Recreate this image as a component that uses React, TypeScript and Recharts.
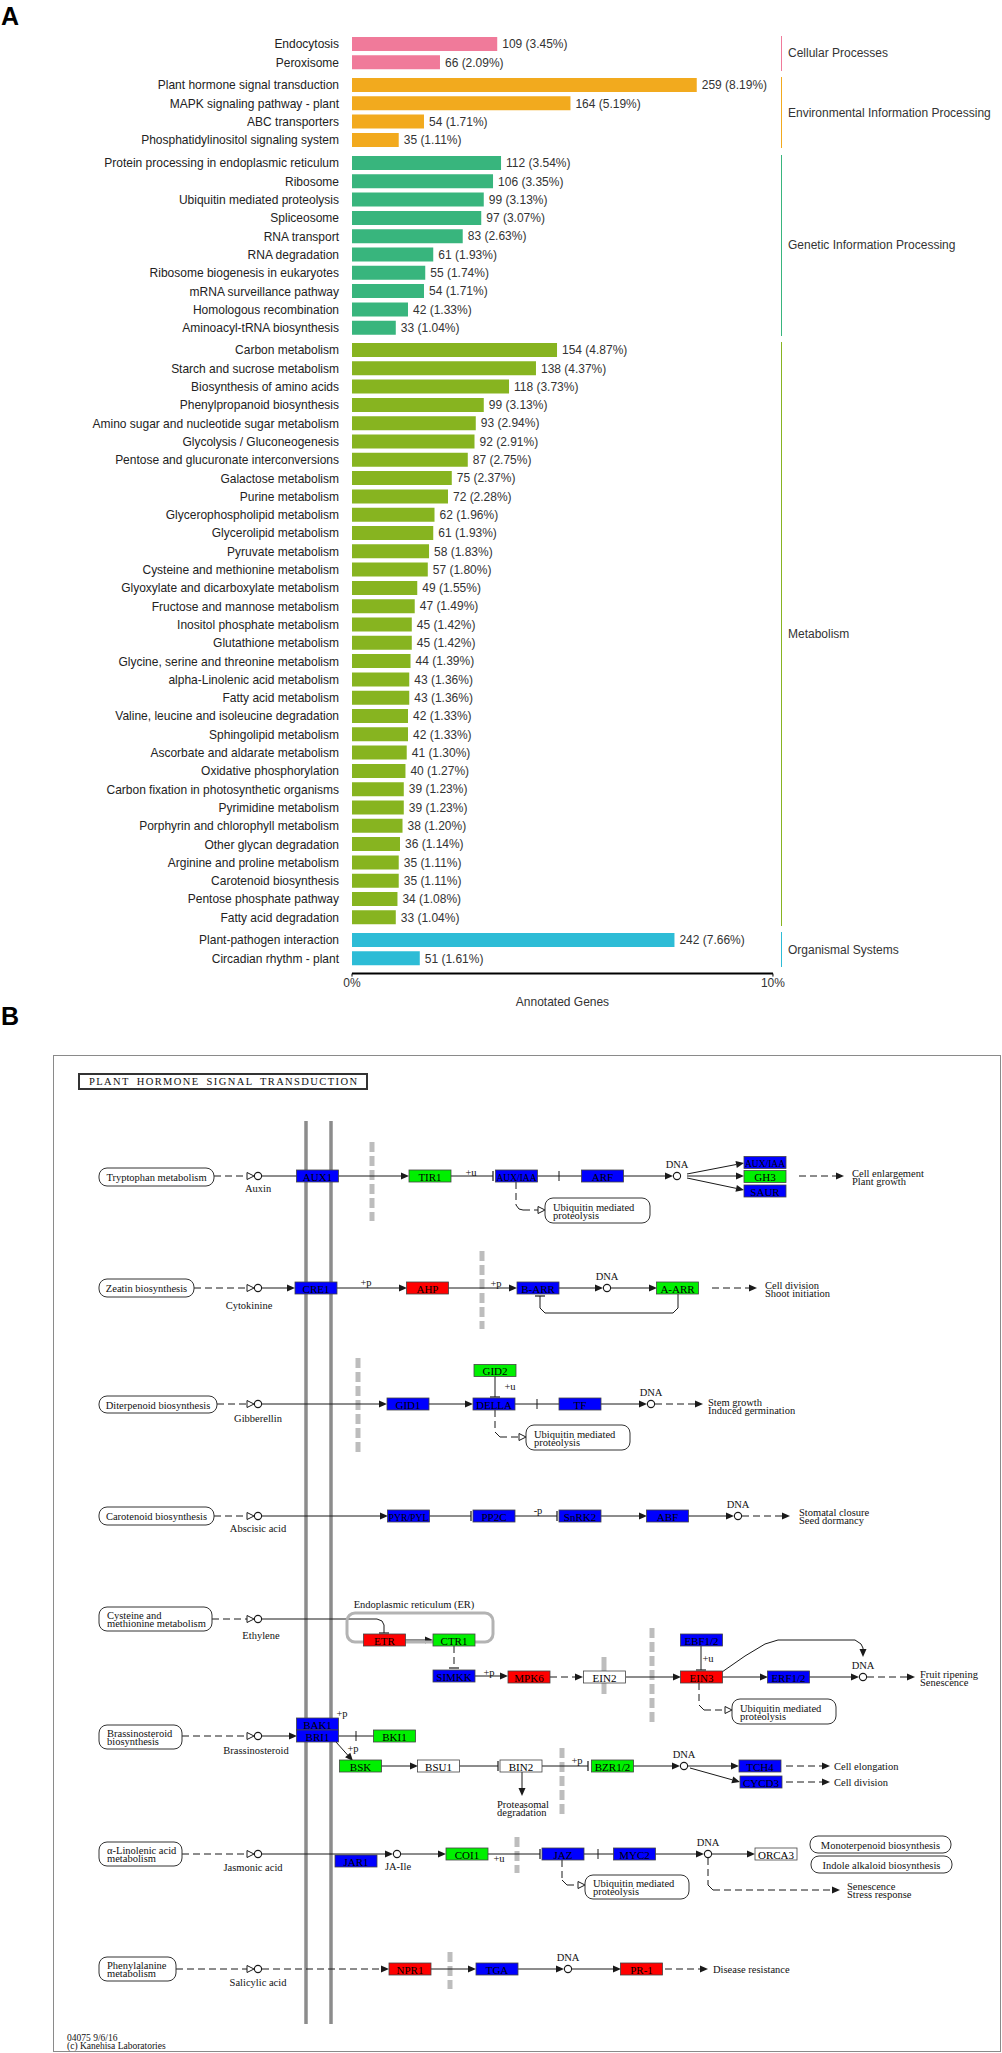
import React from "react";
import {
  BarChart,
  Bar,
  XAxis,
  YAxis,
  LabelList,
  ScatterChart,
  Scatter,
  ReferenceLine,
} from "recharts";

const SANS = '"Liberation Sans", Arial, sans-serif';
const SERIF = '"Liberation Serif", "Times New Roman", serif';
const INK = "#1a1a1a";

// ---------- panel A: KEGG classification ----------
const groupNames = [
  "Cellular Processes",
  "Environmental Information Processing",
  "Genetic Information Processing",
  "Metabolism",
  "Organismal Systems",
];
const groupSizes = [2, 4, 10, 32, 2];
const groupColors = ["#F07A9A", "#F2AA1E", "#38B57D", "#87B420", "#2DBCD6"];

const pathways = [
  "Endocytosis",
  "Peroxisome",
  "Plant hormone signal transduction",
  "MAPK signaling pathway - plant",
  "ABC transporters",
  "Phosphatidylinositol signaling system",
  "Protein processing in endoplasmic reticulum",
  "Ribosome",
  "Ubiquitin mediated proteolysis",
  "Spliceosome",
  "RNA transport",
  "RNA degradation",
  "Ribosome biogenesis in eukaryotes",
  "mRNA surveillance pathway",
  "Homologous recombination",
  "Aminoacyl-tRNA biosynthesis",
  "Carbon metabolism",
  "Starch and sucrose metabolism",
  "Biosynthesis of amino acids",
  "Phenylpropanoid biosynthesis",
  "Amino sugar and nucleotide sugar metabolism",
  "Glycolysis / Gluconeogenesis",
  "Pentose and glucuronate interconversions",
  "Galactose metabolism",
  "Purine metabolism",
  "Glycerophospholipid metabolism",
  "Glycerolipid metabolism",
  "Pyruvate metabolism",
  "Cysteine and methionine metabolism",
  "Glyoxylate and dicarboxylate metabolism",
  "Fructose and mannose metabolism",
  "Inositol phosphate metabolism",
  "Glutathione metabolism",
  "Glycine, serine and threonine metabolism",
  "alpha-Linolenic acid metabolism",
  "Fatty acid metabolism",
  "Valine, leucine and isoleucine degradation",
  "Sphingolipid metabolism",
  "Ascorbate and aldarate metabolism",
  "Oxidative phosphorylation",
  "Carbon fixation in photosynthetic organisms",
  "Pyrimidine metabolism",
  "Porphyrin and chlorophyll metabolism",
  "Other glycan degradation",
  "Arginine and proline metabolism",
  "Carotenoid biosynthesis",
  "Pentose phosphate pathway",
  "Fatty acid degradation",
  "Plant-pathogen interaction",
  "Circadian rhythm - plant",
];
const geneCounts = [
  109, 66, 259, 164, 54, 35, 112, 106, 99, 97, 83, 61, 55, 54, 42, 33, 154, 138,
  118, 99, 93, 92, 87, 75, 72, 62, 61, 58, 57, 49, 47, 45, 45, 44, 43, 43, 42,
  42, 41, 40, 39, 39, 38, 36, 35, 35, 34, 33, 242, 51,
];
const genePercents = [
  3.45, 2.09, 8.19, 5.19, 1.71, 1.11, 3.54, 3.35, 3.13, 3.07, 2.63, 1.93, 1.74,
  1.71, 1.33, 1.04, 4.87, 4.37, 3.73, 3.13, 2.94, 2.91, 2.75, 2.37, 2.28, 1.96,
  1.93, 1.83, 1.8, 1.55, 1.49, 1.42, 1.42, 1.39, 1.36, 1.36, 1.33, 1.33, 1.3,
  1.27, 1.23, 1.23, 1.2, 1.14, 1.11, 1.11, 1.08, 1.04, 7.66, 1.61,
];
const axisTicks = [0, 10];

const ROW = 18.3;
const GAP = 4.5;

function GroupChart({ index, start }: { index: number; start: number }) {
  const n = groupSizes[index];
  const color = groupColors[index];
  const last = index === groupNames.length - 1;
  const rows = pathways.slice(start, start + n).map((name, i) => ({
    name,
    pct: genePercents[start + i],
    label: `${geneCounts[start + i]} (${genePercents[start + i].toFixed(2)}%)`,
  }));
  const bandH = n * ROW;
  const h = last ? bandH + 6 + 32 : bandH;

  return (
    <div
      style={{
        position: "relative",
        width: 1002,
        height: h,
        marginBottom: last ? 0 : GAP,
      }}
    >
      <BarChart
        layout="vertical"
        width={790}
        height={h}
        data={rows}
        margin={{ top: 0, right: 17, bottom: 0, left: 0 }}
        barSize={14}
      >
        <XAxis
          type="number"
          domain={[0, 10]}
          ticks={axisTicks}
          hide={!last}
          height={32}
          tickFormatter={(v) => `${v}%`}
          axisLine={{ stroke: "#000", strokeWidth: 2 }}
          tickLine={{ stroke: "#000" }}
          tickSize={3}
          tick={{ fontSize: 12, fill: "#333", fontFamily: SANS }}
          label={{
            value: "Annotated Genes",
            position: "insideBottom",
            offset: 0,
            fontSize: 12,
            fill: "#333",
            fontFamily: SANS,
          }}
        />
        <YAxis
          type="category"
          dataKey="name"
          width={352}
          axisLine={false}
          tickLine={false}
          tickMargin={7}
          interval={0}
          padding={last ? { top: 0, bottom: 6 } : undefined}
          tick={{ fontSize: 12, fill: "#222", fontFamily: SANS }}
        />
        <Bar dataKey="pct" fill={color} isAnimationActive={false}>
          <LabelList
            dataKey="label"
            position="right"
            offset={5}
            fill="#333"
            fontSize={12}
            fontFamily={SANS}
          />
        </Bar>
      </BarChart>
      <div
        style={{
          position: "absolute",
          left: 781,
          top: 1,
          height: bandH - 2,
          borderLeft: `1.5px solid ${color}`,
        }}
      />
      <div
        style={{
          position: "absolute",
          left: 788,
          top: bandH / 2 - 8,
          fontSize: 12,
          lineHeight: "16px",
          color: "#333",
          fontFamily: SANS,
          whiteSpace: "nowrap",
        }}
      >
        {groupNames[index]}
      </div>
    </div>
  );
}

// ---------- panel B: plant hormone signal transduction map ----------
// expression status of each gene box: up (red), down (green), mixed (blue), none (white)
const geneNames = [
  "AUX1", "TIR1", "AUX/IAA", "ARF", "AUX/IAA", "GH3", "SAUR",
  "CRE1", "AHP", "B-ARR", "A-ARR",
  "GID1", "DELLA", "GID2", "TF",
  "PYR/PYL", "PP2C", "SnRK2", "ABF",
  "ETR", "CTR1", "SIMKK", "MPK6", "EIN2", "EBF1/2", "EIN3", "ERF1/2",
  "BAK1", "BRI1", "BKI1", "BSK", "BSU1", "BIN2", "BZR1/2", "TCH4", "CYCD3",
  "JAR1", "COI1", "JAZ", "MYC2", "ORCA3",
  "NPR1", "TGA", "PR-1",
];
const geneStatus = [
  "mixed", "down", "mixed", "mixed", "mixed", "down", "mixed",
  "mixed", "up", "mixed", "down",
  "mixed", "mixed", "down", "mixed",
  "mixed", "mixed", "mixed", "mixed",
  "up", "down", "mixed", "up", "none", "mixed", "up", "mixed",
  "mixed", "mixed", "down", "down", "none", "none", "down", "mixed", "mixed",
  "mixed", "down", "mixed", "mixed", "none",
  "up", "mixed", "up",
];
const statusColors: Record<string, string> = {
  up: "#FF0000",
  down: "#00F000",
  mixed: "#0000FF",
  none: "#FFFFFF",
};
const geneLayout = [
  [317.5, 1176], [430, 1176], [516.5, 1176], [602.5, 1176], [765, 1162.5], [765, 1176.5], [765, 1191],
  [316, 1288], [427.5, 1288], [538, 1288], [677.5, 1288],
  [408, 1404], [494, 1404], [495, 1370.5], [580, 1404],
  [408.5, 1516], [494, 1516], [580, 1516], [667.5, 1516],
  [384.5, 1640], [454, 1640], [454, 1676], [529, 1677], [604.5, 1677], [701.5, 1640], [701.5, 1677], [788.5, 1677],
  [317.5, 1724], [317.5, 1736], [394.5, 1736], [360.5, 1766], [438.5, 1766], [521, 1766], [612.5, 1766], [760, 1766], [761, 1782],
  [356, 1861], [467, 1854], [563, 1854], [634.5, 1854], [776, 1854],
  [410, 1969], [497, 1969], [641.5, 1969],
];

const compoundNames = [
  "Auxin", "Cytokinine", "Gibberellin", "Abscisic acid", "Ethylene",
  "Brassinosteroid", "Jasmonic acid", "Salicylic acid", "JA-Ile",
];
// circle x, y, then label centre x, y
const compoundLayout = [
  [258, 1176, 258, 1188], [258, 1288, 249, 1305], [258, 1404, 258, 1418],
  [258, 1516, 258, 1528], [258, 1619, 261, 1635], [258, 1736, 256, 1750],
  [258, 1854, 253, 1867], [258, 1969, 258, 1982], [397, 1854, 398, 1866],
];
const dnaLayout = [
  [677, 1176], [607, 1288], [651, 1404], [738, 1516],
  [863, 1677], [684, 1766], [708, 1854], [568, 1969],
];

const mapNames = [
  "Tryptophan metabolism",
  "Zeatin biosynthesis",
  "Diterpenoid biosynthesis",
  "Carotenoid biosynthesis",
  "Cysteine and\nmethionine metabolism",
  "Brassinosteroid\nbiosynthesis",
  "α-Linolenic acid\nmetabolism",
  "Phenylalanine\nmetabolism",
  "Ubiquitin mediated\nproteolysis",
  "Ubiquitin mediated\nproteolysis",
  "Ubiquitin mediated\nproteolysis",
  "Ubiquitin mediated\nproteolysis",
  "Monoterpenoid biosynthesis",
  "Indole alkaloid biosynthesis",
];
const mapLayout = [
  [99, 214, 1168, 1186], [99, 194, 1279, 1297], [99, 217, 1396, 1413],
  [99, 214, 1507, 1525], [99, 212, 1607, 1631], [99, 182, 1725, 1749],
  [99, 182, 1842, 1866], [99, 176, 1957, 1981], [545, 650, 1198, 1223],
  [526, 630, 1425, 1450], [732, 836, 1699, 1724], [585, 689, 1875, 1899],
  [810, 951, 1836, 1853], [811, 952, 1856, 1873],
];

const noteTexts = [
  "+u", "Cell enlargement\nPlant growth", "+p", "+p", "Cell division\nShoot initiation",
  "+u", "Stem growth\nInduced germination", "-p", "Stomatal closure\nSeed dormancy",
  "Endoplasmic reticulum (ER)", "+p", "+u", "Fruit ripening\nSenescence",
  "+p", "+p", "Proteasomal\ndegradation", "+p", "Cell elongation", "Cell division",
  "+u", "Senescence\nStress response", "Disease resistance",
  "04075 9/6/16\n(c) Kanehisa Laboratories",
];
const noteLayout: [number, number, string][] = [
  [471, 1172, "middle"], [852, 1173, "start"], [366, 1282, "middle"], [496, 1283, "middle"], [765, 1285, "start"],
  [510, 1386, "middle"], [708, 1402, "start"], [538, 1510, "middle"], [799, 1512, "start"],
  [414, 1604, "middle"], [489, 1672, "middle"], [708, 1658, "middle"], [920, 1674, "start"],
  [342, 1713, "middle"], [353, 1748, "middle"], [497, 1804, "start"], [577, 1760, "middle"], [834, 1766, "start"], [834, 1782, "start"],
  [499, 1858, "middle"], [847, 1886, "start"], [713, 1969, "start"],
  [67, 2038, "start"],
];

// connectors: flat point lists, head type, dashed
type Head = "arrow" | "open" | "bar" | "none";
const links: { p: number[]; h: Head; d?: boolean }[] = [
  { p: [214, 1176, 254, 1176], h: "open", d: true },
  { p: [262, 1176, 297, 1176], h: "none" },
  { p: [338, 1176, 409, 1176], h: "arrow" },
  { p: [451, 1176, 493, 1176], h: "bar" },
  { p: [537, 1176, 582, 1176], h: "none" },
  { p: [559, 1171, 559, 1181], h: "none" },
  { p: [623, 1176, 673, 1176], h: "arrow" },
  { p: [687, 1174, 744, 1163], h: "arrow" },
  { p: [687, 1176, 744, 1176], h: "arrow" },
  { p: [687, 1178, 744, 1190], h: "arrow" },
  { p: [799, 1176, 844, 1176], h: "arrow", d: true },
  { p: [516, 1182, 516, 1205, 519, 1209, 523, 1210, 545, 1210], h: "open", d: true },

  { p: [194, 1288, 254, 1288], h: "open", d: true },
  { p: [262, 1288, 295, 1288], h: "arrow" },
  { p: [337, 1288, 407, 1288], h: "arrow" },
  { p: [448, 1288, 517, 1288], h: "arrow" },
  { p: [559, 1288, 603, 1288], h: "arrow" },
  { p: [611, 1288, 657, 1288], h: "arrow" },
  { p: [712, 1288, 757, 1288], h: "arrow", d: true },
  { p: [678, 1294, 678, 1308, 673, 1313, 545, 1313, 540, 1308, 540, 1296], h: "bar" },

  { p: [217, 1404, 254, 1404], h: "open", d: true },
  { p: [262, 1404, 387, 1404], h: "arrow" },
  { p: [429, 1404, 473, 1404], h: "arrow" },
  { p: [495, 1376, 495, 1397], h: "bar" },
  { p: [515, 1404, 559, 1404], h: "none" },
  { p: [537, 1399, 537, 1409], h: "none" },
  { p: [601, 1404, 647, 1404], h: "arrow" },
  { p: [655, 1404, 703, 1404], h: "arrow", d: true },
  { p: [495, 1410, 495, 1432, 500, 1437, 526, 1437], h: "open", d: true },

  { p: [214, 1516, 254, 1516], h: "open", d: true },
  { p: [262, 1516, 388, 1516], h: "arrow" },
  { p: [429, 1516, 471, 1516], h: "bar" },
  { p: [515, 1516, 557, 1516], h: "bar" },
  { p: [601, 1516, 647, 1516], h: "arrow" },
  { p: [688, 1516, 734, 1516], h: "arrow" },
  { p: [742, 1516, 790, 1516], h: "arrow", d: true },

  { p: [212, 1619, 254, 1619], h: "open", d: true },
  { p: [262, 1619, 377, 1619, 382, 1621, 384, 1625, 384, 1633], h: "bar" },
  { p: [405, 1640, 433, 1640], h: "arrow" },
  { p: [454, 1646, 454, 1668], h: "bar", d: true },
  { p: [475, 1676, 508, 1676], h: "arrow" },
  { p: [550, 1677, 583, 1677], h: "arrow", d: true },
  { p: [626, 1677, 681, 1677], h: "arrow" },
  { p: [701, 1646, 701, 1670], h: "bar" },
  { p: [722, 1677, 768, 1677], h: "arrow" },
  { p: [809, 1677, 859, 1677], h: "arrow" },
  { p: [867, 1677, 915, 1677], h: "arrow", d: true },
  { p: [722, 1672, 745, 1656, 765, 1644, 778, 1640, 855, 1640, 861, 1644, 863, 1648, 863, 1657], h: "arrow" },
  { p: [699, 1683, 699, 1705, 704, 1710, 732, 1710], h: "open", d: true },

  { p: [182, 1736, 254, 1736], h: "open", d: true },
  { p: [262, 1736, 297, 1736], h: "arrow" },
  { p: [338, 1736, 374, 1736], h: "none" },
  { p: [356, 1731, 356, 1741], h: "none" },
  { p: [336, 1742, 353, 1761], h: "arrow" },
  { p: [381, 1766, 418, 1766], h: "arrow" },
  { p: [459, 1766, 498, 1766], h: "bar" },
  { p: [522, 1772, 522, 1796], h: "arrow" },
  { p: [542, 1766, 588, 1766], h: "bar" },
  { p: [633, 1766, 680, 1766], h: "arrow" },
  { p: [688, 1766, 739, 1766], h: "arrow" },
  { p: [690, 1768, 740, 1782], h: "arrow" },
  { p: [786, 1766, 830, 1766], h: "arrow", d: true },
  { p: [786, 1782, 830, 1782], h: "arrow", d: true },

  { p: [182, 1854, 254, 1854], h: "open", d: true },
  { p: [262, 1854, 393, 1854], h: "arrow" },
  { p: [401, 1854, 446, 1854], h: "arrow" },
  { p: [488, 1854, 540, 1854], h: "bar" },
  { p: [584, 1854, 614, 1854], h: "none" },
  { p: [598, 1849, 598, 1859], h: "none" },
  { p: [655, 1854, 704, 1854], h: "arrow" },
  { p: [712, 1854, 755, 1854], h: "arrow" },
  { p: [562, 1860, 562, 1880, 567, 1885, 585, 1885], h: "open", d: true },
  { p: [708, 1858, 708, 1885, 713, 1890, 840, 1890], h: "arrow", d: true },

  { p: [176, 1969, 254, 1969], h: "open", d: true },
  { p: [262, 1969, 389, 1969], h: "arrow", d: true },
  { p: [431, 1969, 476, 1969], h: "arrow" },
  { p: [518, 1969, 564, 1969], h: "arrow" },
  { p: [572, 1969, 621, 1969], h: "arrow" },
  { p: [665, 1969, 708, 1969], h: "arrow", d: true },
];

// membranes: x, y from, y to
const plasmaMembranes = [
  [306, 1121, 2024],
  [331, 1121, 2024],
];
const nuclearBarriers = [
  [372, 1142, 1221, 1],
  [482, 1251, 1329, 1],
  [358, 1358, 1452, 1],
  [604, 1657, 1694, 0],
  [652, 1628, 1722, 1],
  [562, 1748, 1814, 1],
  [517, 1837, 1873, 1],
  [450, 1952, 1989, 1],
];

function segmentShape(head: Head, dashed: boolean) {
  return (sp: any) => {
    const { x1, y1, x2, y2 } = sp;
    const dx = x2 - x1;
    const dy = y2 - y1;
    const len = Math.hypot(dx, dy) || 1;
    const ux = dx / len;
    const uy = dy / len;
    const hl = head === "arrow" ? 8 : head === "open" ? 7 : 0;
    const ex = x2 - ux * hl;
    const ey = y2 - uy * hl;
    const px = -uy;
    const py = ux;
    const tri = `${x2},${y2} ${ex + px * 3.5},${ey + py * 3.5} ${ex - px * 3.5},${ey - py * 3.5}`;
    return (
      <g>
        <line
          x1={x1}
          y1={y1}
          x2={ex}
          y2={ey}
          stroke={INK}
          strokeWidth={1}
          strokeDasharray={dashed ? "7 4" : undefined}
        />
        {head === "arrow" && <polygon points={tri} fill={INK} />}
        {head === "open" && (
          <polygon points={tri} fill="#fff" stroke={INK} strokeWidth={1} />
        )}
        {head === "bar" && (
          <line
            x1={x2 + px * 5}
            y1={y2 + py * 5}
            x2={x2 - px * 5}
            y2={y2 - py * 5}
            stroke={INK}
            strokeWidth={1.2}
          />
        )}
      </g>
    );
  };
}

function MultiText({ x, y, text, anchor, size, gap }: any) {
  const lines = String(text).split("\n");
  return (
    <text
      x={x}
      y={y}
      textAnchor={anchor}
      dominantBaseline="central"
      fontFamily={SERIF}
      fontSize={size}
      fill="#111"
    >
      {lines.map((l, i) => (
        <tspan key={i} x={x} dy={i === 0 ? 0 : gap}>
          {l}
        </tspan>
      ))}
    </text>
  );
}

function GeneBox(props: any) {
  const { cx, cy, payload } = props;
  const long = payload.name.length > 6;
  return (
    <g>
      <rect
        x={cx - 21}
        y={cy - 6}
        width={42}
        height={12}
        fill={statusColors[payload.status]}
        stroke="#444"
        strokeWidth={0.8}
      />
      <text
        x={cx}
        y={cy + 0.5}
        textAnchor="middle"
        dominantBaseline="central"
        fontFamily={SERIF}
        fontSize={11}
        fill="#000"
        textLength={long ? 40 : undefined}
        lengthAdjust={long ? "spacingAndGlyphs" : undefined}
      >
        {payload.name}
      </text>
    </g>
  );
}

function MapBox(props: any) {
  const { cx, cy, payload } = props;
  const w = payload.w;
  const hgt = payload.h;
  const multi = payload.name.includes("\n");
  return (
    <g>
      <rect
        x={cx - w / 2}
        y={cy - hgt / 2}
        width={w}
        height={hgt}
        rx={8}
        fill="#fff"
        stroke="#333"
        strokeWidth={1}
      />
      <MultiText
        x={multi ? cx - w / 2 + 8 : cx}
        y={multi ? cy - 4 : cy}
        text={payload.name}
        anchor={multi ? "start" : "middle"}
        size={10.5}
        gap={8}
      />
    </g>
  );
}

function Compound(props: any) {
  const { cx, cy, payload } = props;
  return (
    <g>
      <circle cx={cx} cy={cy} r={3.6} fill="#fff" stroke={INK} strokeWidth={1.1} />
      <MultiText
        x={cx + payload.dx}
        y={cy + payload.dy}
        text={payload.name}
        anchor="middle"
        size={10.5}
        gap={8}
      />
    </g>
  );
}

function Note(props: any) {
  const { cx, cy, payload } = props;
  return (
    <MultiText
      x={cx}
      y={cy}
      text={payload.name}
      anchor={payload.anchor}
      size={payload.small ? 9.5 : 10.5}
      gap={8}
    />
  );
}

function ErBox(props: any) {
  const { cx, cy } = props;
  return (
    <rect
      x={cx - 73}
      y={cy - 14.5}
      width={146}
      height={29}
      rx={8}
      fill="none"
      stroke="#b3b3b3"
      strokeWidth={3}
    />
  );
}

function PathwayMap() {
  const genes = geneNames.map((name, i) => ({
    name,
    status: geneStatus[i],
    x: geneLayout[i][0],
    y: geneLayout[i][1],
  }));
  const maps = mapNames.map((name, i) => {
    const [a, b, c, d] = mapLayout[i];
    return { name, x: (a + b) / 2, y: (c + d) / 2, w: b - a, h: d - c };
  });
  const compounds = [
    ...compoundNames.map((name, i) => {
      const [x, y, lx, ly] = compoundLayout[i];
      return { name, x, y, dx: lx - x, dy: ly - y };
    }),
    ...dnaLayout.map(([x, y]) => ({ name: "DNA", x, y, dx: 0, dy: -12 })),
  ];
  const notes = noteTexts.map((name, i) => ({
    name,
    x: noteLayout[i][0],
    y: noteLayout[i][1],
    anchor: noteLayout[i][2],
    small: i === noteTexts.length - 1,
  }));
  const er = [{ x: 420, y: 1627.5 }];

  const segments: { a: number[]; b: number[]; h: Head; d: boolean; k: string }[] = [];
  links.forEach((ln, li) => {
    for (let j = 0; j + 3 < ln.p.length; j += 2) {
      const isLast = j + 4 >= ln.p.length;
      segments.push({
        a: [ln.p[j], ln.p[j + 1]],
        b: [ln.p[j + 2], ln.p[j + 3]],
        h: isLast ? ln.h : "none",
        d: !!ln.d,
        k: `${li}-${j}`,
      });
    }
  });

  return (
    <ScatterChart
      width={1002}
      height={1053}
      margin={{ top: 0, right: 0, bottom: 0, left: 0 }}
    >
      <XAxis type="number" dataKey="x" domain={[0, 1002]} hide />
      <YAxis type="number" dataKey="y" domain={[1000, 2053]} reversed hide />
      {plasmaMembranes.map(([x, a, b], i) => (
        <ReferenceLine
          key={`pm${i}`}
          segment={[
            { x, y: a },
            { x, y: b },
          ]}
          stroke="#8c8c8c"
          strokeWidth={3.5}
        />
      ))}
      {nuclearBarriers.map(([x, a, b, dashed], i) => (
        <ReferenceLine
          key={`nb${i}`}
          segment={[
            { x, y: a },
            { x, y: b },
          ]}
          stroke="#bdbdbd"
          strokeWidth={5}
          strokeDasharray={dashed ? "10 4" : undefined}
        />
      ))}
      {segments.map((s) => (
        <ReferenceLine
          key={s.k}
          segment={[
            { x: s.a[0], y: s.a[1] },
            { x: s.b[0], y: s.b[1] },
          ]}
          stroke={INK}
          shape={segmentShape(s.h, s.d)}
        />
      ))}
      <Scatter data={er} shape={(p: any) => <ErBox {...p} />} isAnimationActive={false} />
      <Scatter data={maps} shape={(p: any) => <MapBox {...p} />} isAnimationActive={false} />
      <Scatter data={compounds} shape={(p: any) => <Compound {...p} />} isAnimationActive={false} />
      <Scatter data={genes} shape={(p: any) => <GeneBox {...p} />} isAnimationActive={false} />
      <Scatter data={notes} shape={(p: any) => <Note {...p} />} isAnimationActive={false} />
    </ScatterChart>
  );
}

export default function App() {
  let start = 0;
  const groups = groupSizes.map((n, i) => {
    const el = <GroupChart key={i} index={i} start={start} />;
    start += n;
    return el;
  });

  return (
    <div
      style={{
        position: "absolute",
        left: 0,
        top: 0,
        width: 1002,
        height: 2053,
        overflow: "hidden",
        background: "#fff",
        fontFamily: SANS,
      }}
    >
      <div
        style={{
          position: "absolute",
          left: 1,
          top: 2,
          fontSize: 25,
          fontWeight: "bold",
          fontFamily: SANS,
          lineHeight: "28px",
        }}
      >
        A
      </div>
      <div style={{ position: "absolute", left: 0, top: 35 }}>{groups}</div>

      <div
        style={{
          position: "absolute",
          left: 1,
          top: 1002,
          fontSize: 25,
          fontWeight: "bold",
          fontFamily: SANS,
          lineHeight: "28px",
        }}
      >
        B
      </div>
      <div
        style={{
          position: "absolute",
          left: 53,
          top: 1055,
          width: 948,
          height: 997,
          border: "1.5px solid #8a8a8a",
          boxSizing: "border-box",
        }}
      />
      <div
        style={{
          position: "absolute",
          left: 78,
          top: 1073,
          width: 290,
          height: 17,
          border: "2px solid #333",
          boxSizing: "border-box",
          fontFamily: SERIF,
          fontSize: 10.5,
          letterSpacing: 1.4,
          wordSpacing: 3,
          lineHeight: "13px",
          paddingLeft: 9,
          color: "#111",
          whiteSpace: "nowrap",
        }}
      >
        PLANT HORMONE SIGNAL TRANSDUCTION
      </div>
      <div style={{ position: "absolute", left: 0, top: 1000 }}>
        <PathwayMap />
      </div>
    </div>
  );
}
